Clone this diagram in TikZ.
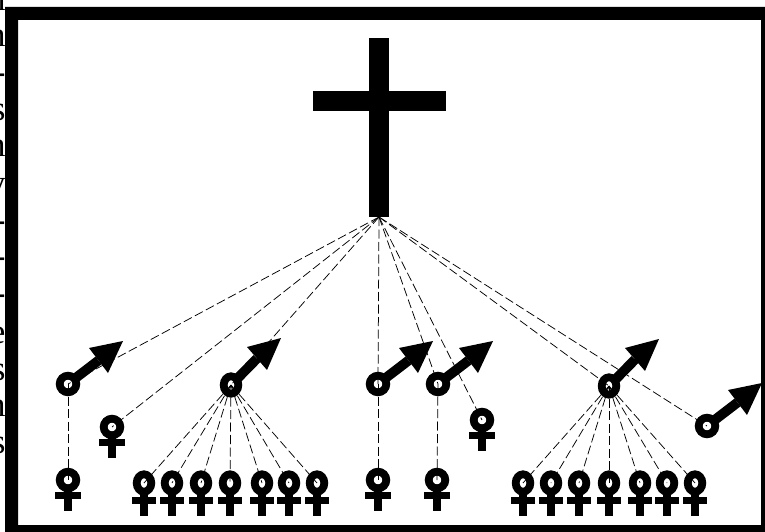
\documentclass[tikz,border=0pt]{standalone}
\usepackage{fontspec}
\setmainfont{Liberation Serif}
\usetikzlibrary{shapes.geometric,calc}
\tikzset{
  x=1pt,y=-1pt,
  margintext/.style={inner sep=0pt,outer sep=0pt,anchor=base east,font=\fontsize{35}{35}\selectfont},
  bigring/.style={ellipse,draw=black,fill=white,line width=7.8pt,inner sep=0pt,outer sep=0pt,minimum width=16.6pt,minimum height=16.6pt},
  smallring/.style={ellipse,draw=black,fill=white,line width=7.8pt,inner sep=0pt,outer sep=0pt,minimum width=14.6pt,minimum height=17.4pt},
  beam/.style={rectangle,fill=black,inner sep=0pt,outer sep=0pt},
  kin/.style={line width=0.75pt,dash pattern=on 9pt off 3.5pt},
  limb/.style={line width=9.8pt},
  stemthick/.style={line width=7.6pt},
  stemthicker/.style={line width=8.2pt}
}
\newcommand{\bigarrow}[1]{%
  \draw[limb] ($(#1.center)+(7.5,-5.9)$) -- ($(#1.center)+(30.5,-23.5)$);
  \fill ($(#1.center)+(55,-43)$) -- ++(-34,7) -- ++(19,25) -- cycle;}
\newcommand{\smallarrow}[1]{%
  \draw[limb] ($(#1.center)+(6.5,-6.6)$) -- ($(#1.center)+(26,-26.5)$);
  \fill ($(#1.center)+(50,-47)$) -- ++(-34,9) -- ++(20,23) -- cycle;}
\newcommand{\bigcrossbar}[1]{%
  \draw[stemthick] (#1.center) ++(0,11) -- ++(0,19.8);
  \fill (#1.center) ++(-13.2,11.8) rectangle ++(26.4,7.4);}
\newcommand{\smallcrossbar}[1]{%
  \draw[stemthicker] (#1.center) ++(0,11.5) -- ++(0,21.8);
  \fill (#1.center) ++(-12.4,13.6) rectangle ++(24.8,7.4);}
\begin{document}
\begin{tikzpicture}
\useasboundingbox (0,0) rectangle (765,532);
\clip (0,0) rectangle (765,532);
\fill[white] (0,0) rectangle (765,532);
% cut-off column of text at the left edge
\foreach \i/\ch/\yy in {1/n/10.5,2/n/47,3/-/84,4/s/121,5/n/157,6/y/194,7/-/231,8/-/267.5,9/-/304,10/e/343,11/s/380,12/n/416.5,13/s/453}
  \node[margintext] (m\i) at (5.5,\yy) {\ch};
% frame
\fill[even odd rule] (5,7) rectangle (765,532) (18,20) rectangle (761,525);
% large cross
\node[beam,minimum width=20pt,minimum height=179pt] (stem) at (379,127.5) {};
\node[beam,minimum width=133pt,minimum height=20pt] (bar) at (379.5,101) {};
\coordinate (apex) at (379,217);
% rings
\foreach \n/\px/\py in {ma/68/384,mc/378/384,md/438/384,mf/707/426,fa/68/480,fb/112/427,fc/378/480,fd/437/480,fe/482/420}
  \node[bigring] (\n) at (\px,\py) {};
\foreach \n/\px/\py in {mb/231/385,me/609/386,a1/144/483,a2/172/483,a3/201/483,a4/230/483,a5/262/483,a6/289/483,a7/317/483,b1/523/483,b2/551/483,b3/579/483,b4/609/483,b5/640/483,b6/667/483,b7/695/483}
  \node[smallring] (\n) at (\px,\py) {};
% symbols
\foreach \n in {ma,mc,md,mf} {\bigarrow{\n}}
\foreach \n in {mb,me} {\smallarrow{\n}}
\foreach \n in {fa,fb,fc,fd,fe} {\bigcrossbar{\n}}
\foreach \n in {a1,a2,a3,a4,a5,a6,a7,b1,b2,b3,b4,b5,b6,b7} {\smallcrossbar{\n}}
% connectors
\foreach \n in {ma,fb,mb,mc,md,fe,me,mf}
  \draw[kin] (apex) -- (\n.center);
\draw[kin] (ma.center) -- (fa.center);
\draw[kin] (mc.center) -- (fc.center);
\draw[kin] (md.center) -- (fd.center);
\foreach \n in {a1,a2,a3,a4,a5,a6,a7}
  \draw[kin] (mb.center) -- (\n.center);
\foreach \n in {b1,b2,b3,b4,b5,b6,b7}
  \draw[kin] (me.center) -- (\n.center);
\end{tikzpicture}
\end{document}
